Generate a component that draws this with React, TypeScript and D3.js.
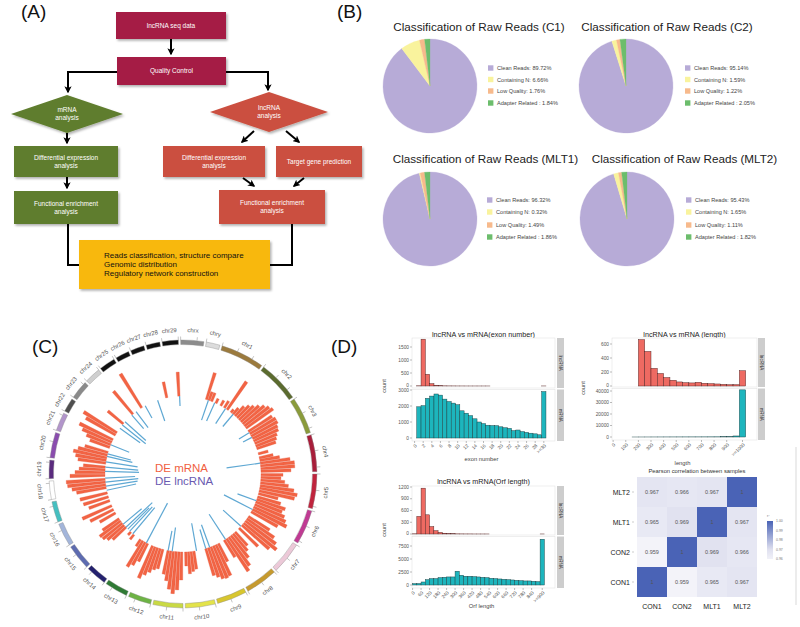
import React from "react";
import * as d3 from "d3";

const FONT = "'Liberation Sans', Arial, Helvetica, sans-serif";

/* ---------------- Panel B data ---------------- */
const readCategories = ["Clean Reads", "Containing N", "Low Quality", "Adapter Related "];
const readColors = ["#b7abd7", "#f9f39d", "#f7ba8c", "#6cbd6c"];
const readsC1 = [89.72, 6.66, 1.76, 1.84];
const readsC2 = [95.14, 1.59, 1.22, 2.05];
const readsMLT1 = [96.32, 0.32, 1.49, 1.86];
const readsMLT2 = [95.43, 1.65, 1.11, 1.82];

/* ---------------- Panel C data ---------------- */
const chromosomes = ["chrx", "chry", "chr1", "chr2", "chr3", "chr4", "chr5", "chr6", "chr7", "chr8", "chr9", "chr10", "chr11", "chr12", "chr13", "chr14", "chr15", "chr16", "chr17", "chr18", "chr19", "chr20", "chr21", "chr22", "chr23", "chr24", "chr25", "chr26", "chr27", "chr28", "chr29"];
const chromSizes = [10, 6, 19, 18, 16, 16, 15, 15, 14, 14, 13, 13, 13, 10, 10, 9, 11, 10, 9, 8, 8, 11, 8, 6, 8, 7, 7, 6, 6, 6, 7];
const chromColors = ["#8c8c8c", "#dcdcdc", "#9b7a3d", "#5b6b2f", "#8a9b3b", "#a81d3a", "#c0233d", "#c03a93", "#ecc9d8", "#c69a2e", "#d8c62e", "#e3e34a", "#c9d944", "#6db344", "#2f7a34", "#24216e", "#5d6bb0", "#a3b5da", "#45bfc0", "#ffffff", "#5a2b7e", "#8a4cae", "#b295cb", "#4f4f4f", "#8a8a8a", "#cfcfcf", "#111111", "#111111", "#111111", "#111111", "#111111"];

// DE mRNA: [chromosome, position within chromosome, signal]
const deMrna: [string, number, number][] = [
  ["chr1", 0.5, 28], ["chr1", 2.5, 9], ["chr1", 4.5, 9], ["chr1", 8, 5], ["chr1", 12, 6], ["chr1", 15, 8], ["chr1", 17.5, 34],
  ["chr2", 1, 4], ["chr2", 3, 8], ["chr2", 5, 13], ["chr2", 7, 17], ["chr2", 9, 20], ["chr2", 11, 24], ["chr2", 13, 28], ["chr2", 15, 31], ["chr2", 17, 33],
  ["chr3", 1, 28], ["chr3", 3, 30], ["chr3", 5, 30], ["chr3", 7, 28], ["chr3", 9, 27], ["chr3", 11, 24], ["chr3", 13, 22], ["chr3", 15, 20],
  ["chr4", 2, 10], ["chr4", 5, 14], ["chr4", 7, 20], ["chr4", 9, 30], ["chr4", 11, 34], ["chr4", 13, 34], ["chr4", 15, 30],
  ["chr5", 0.5, 22], ["chr5", 2.5, 20], ["chr5", 4.5, 24], ["chr5", 6.5, 28], ["chr5", 8.5, 34], ["chr5", 10.5, 38], ["chr5", 12.5, 36], ["chr5", 14.5, 20],
  ["chr6", 1, 24], ["chr6", 3, 30], ["chr6", 5, 28], ["chr6", 7, 32], ["chr6", 9, 35], ["chr6", 11, 38], ["chr6", 13, 30],
  ["chr7", 1, 25], ["chr7", 3, 33], ["chr7", 5, 38], ["chr7", 7, 42], ["chr7", 9, 36], ["chr7", 12, 26],
  ["chr8", 1, 18], ["chr8", 3, 22], ["chr8", 5, 28], ["chr8", 7, 35], ["chr8", 9, 39], ["chr8", 11, 20],
  ["chr9", 1, 20], ["chr9", 3, 34], ["chr9", 5, 35], ["chr9", 7, 34], ["chr9", 9, 31], ["chr9", 11, 28],
  ["chr10", 6, 18], ["chr10", 8, 20], ["chr10", 10, 22], ["chr10", 12, 14],
  ["chr11", 1, 28], ["chr11", 3, 38], ["chr11", 5, 42], ["chr11", 7, 38], ["chr11", 9, 30], ["chr11", 11, 24],
  ["chr12", 1, 20], ["chr12", 3, 22], ["chr12", 5, 26], ["chr12", 7, 30], ["chr12", 9, 35],
  ["chr13", 2, 20], ["chr13", 4, 26], ["chr13", 6, 30], ["chr13", 8, 8],
  ["chr14", 3, 6], ["chr14", 6, 4],
  ["chr15", 1, 18], ["chr15", 3, 22], ["chr15", 5, 25], ["chr15", 7, 26], ["chr15", 9, 20],
  ["chr16", 2, 18], ["chr16", 5, 26], ["chr16", 8, 32],
  ["chr17", 1, 22], ["chr17", 4, 26], ["chr17", 7, 28],
  ["chr18", 1, 30], ["chr18", 3, 34], ["chr18", 5, 38], ["chr18", 7, 39],
  ["chr19", 1, 35], ["chr19", 3, 30], ["chr19", 5, 26], ["chr19", 7, 22],
  ["chr20", 1, 28], ["chr20", 3, 31], ["chr20", 5, 34], ["chr20", 7, 30], ["chr20", 9, 24],
  ["chr21", 1, 21], ["chr21", 3, 26], ["chr21", 5, 32], ["chr21", 7, 37],
  ["chr22", 2, 34], ["chr22", 4, 39],
  ["chr23", 5, 20], ["chr24", 6, 30], ["chr25", 6, 40],
  ["chr28", 4, 16], ["chr29", 6, 24],
];

// DE lncRNA: [chromosome, position within chromosome, signal]
const deLnc: [string, number, number][] = [
  ["chr27", 4, 22], ["chr29", 6.5, 10],
  ["chr1", 2, 21], ["chr1", 7, 20], ["chr1", 16, 18], ["chr2", 3, 16],
  ["chr3", 2, 12], ["chr3", 6, 10], ["chr4", 9, 34],
  ["chr6", 4, 20], ["chr6", 11, 32], ["chr7", 10, 24], ["chr8", 10, 30],
  ["chr9", 8, 24], ["chr9", 11, 20], ["chr10", 4, 28],
  ["chr11", 8, 24], ["chr11", 11, 20], ["chr13", 3, 45],
  ["chr14", 4, 34], ["chr14", 7, 33], ["chr14", 9, 30], ["chr15", 1, 36], ["chr15", 4, 24],
  ["chr17", 9, 30], ["chr18", 2, 32], ["chr18", 5, 33], ["chr18", 8, 30],
  ["chr19", 4, 34], ["chr19", 7, 33], ["chr20", 2, 32], ["chr20", 6, 26], ["chr20", 8, 24],
  ["chr21", 3, 20], ["chr23", 1, 25], ["chr23", 4, 30], ["chr23", 7, 28],
  ["chr24", 5, 18], ["chr25", 1, 20], ["chr26", 1, 14],
];

/* ---------------- Panel D data ---------------- */
const exonBins = d3.range(1, 31);
const exonLnc = [8, 1800, 450, 90, 30, 12, 6, 4, 3, 2, 2, 1, 1, 1, 1, 1, 1, 0, 0, 0, 0, 0, 0, 0, 0, 0, 0, 0, 0, 2];
const exonMrna = [1950, 2020, 2480, 2620, 2750, 2680, 2430, 2280, 2180, 2080, 1700, 1550, 1400, 1200, 1000, 900, 800, 780, 770, 700, 640, 600, 460, 500, 400, 350, 300, 260, 200, 2900];
const exonTicks = d3.range(0, 31, 2);
const exonTickLabels = ["0", "2", "4", "6", "8", "10", "12", "14", "16", "18", "20", "22", "24", "26", "28", ">=30"];

const lengthBins = d3.range(0, 1001, 50);
const lengthLnc = [0, 0, 0, 0, 663, 494, 252, 179, 121, 82, 58, 48, 44, 53, 39, 34, 29, 24, 19, 19, 218];
const lengthMrna = [0, 0, 0, 10, 20, 30, 40, 50, 60, 70, 80, 90, 100, 110, 120, 140, 160, 200, 300, 900, 41000];
const lengthTicks = [0, 100, 200, 300, 400, 500, 600, 700, 800, 900, 1025];
const lengthTickLabels = ["0", "100", "200", "300", "400", "500", "600", "700", "800", "900", ">=1000"];

const orfBins = d3.range(0, 901, 30);
const orfLnc = [5, 450, 1170, 490, 190, 85, 40, 20, 10, 6, 4, 3, 2, 2, 1, 1, 1, 1, 0, 0, 0, 0, 0, 0, 0, 0, 0, 0, 0, 0, 1];
const orfMrna = [260, 280, 580, 1030, 1230, 1230, 1420, 1490, 1550, 1550, 2650, 1870, 1680, 1680, 1610, 1550, 1480, 1420, 1290, 1230, 1160, 1100, 1030, 970, 900, 840, 780, 780, 710, 650, 8800];
const orfTicks = [0, 60, 120, 180, 240, 300, 360, 420, 480, 540, 600, 660, 720, 780, 840, 915];
const orfTickLabels = ["0", "60", "120", "180", "240", "300", "360", "420", "480", "540", "600", "660", "720", "780", "840", ">=900"];

const corrSamples = ["CON1", "CON2", "MLT1", "MLT2"];
const corrCON1 = [1, 0.959, 0.965, 0.967];
const corrCON2 = [0.959, 1, 0.969, 0.966];
const corrMLT1 = [0.965, 0.969, 1, 0.967];
const corrMLT2 = [0.967, 0.966, 0.967, 1];
const corrLegendTicks = [1.0, 0.99, 0.98, 0.97, 0.96];

/* ================= Panel A ================= */
function Box({ x, y, w, h, fill, lines, fs = 6.5, color = "#fff" }: any) {
  const lh = fs * 1.25;
  return (
    <g>
      <rect x={x} y={y} width={w} height={h} fill={fill} filter="url(#shadow)" />
      {lines.map((t: string, i: number) => (
        <text key={i} x={x + w / 2} y={y + h / 2 + (i - (lines.length - 1) / 2) * lh + fs * 0.35} textAnchor="middle" fontSize={fs} fill={color}>{t}</text>
      ))}
    </g>
  );
}

function Diamond({ cx, cy, hw, hh, fill, lines, fs = 6.5 }: any) {
  const lh = fs * 1.25;
  return (
    <g>
      <polygon points={`${cx},${cy - hh} ${cx + hw},${cy} ${cx},${cy + hh} ${cx - hw},${cy}`} fill={fill} filter="url(#shadow)" />
      {lines.map((t: string, i: number) => (
        <text key={i} x={cx} y={cy + (i - (lines.length - 1) / 2) * lh + fs * 0.35} textAnchor="middle" fontSize={fs} fill="#fff">{t}</text>
      ))}
    </g>
  );
}

function PanelA() {
  const crimson = "#a51c44";
  const green = "#5f7d2d";
  const red = "#cb503f";
  const ln = { stroke: "#000", strokeWidth: 2, fill: "none" };
  return (
    <g>
      <text x={21} y={18} fontSize={19} fill="#111">(A)</text>
      <Box x={116} y={12} w={110} h={27} fill={crimson} lines={["lncRNA seq data"]} />
      <Box x={117} y={57} w={109} h={28} fill={crimson} lines={["Quality Control"]} />
      <Diamond cx={67} cy={114} hw={56} hh={19} fill={green} lines={["mRNA", "analysis"]} />
      <Diamond cx={269} cy={112} hw={59} hh={20} fill={red} lines={["lncRNA", "analysis"]} />
      <Box x={14} y={146} w={104} h={31} fill={green} lines={["Differential expression", "analysis"]} />
      <Box x={14} y={191} w={104} h={33} fill={green} lines={["Functional enrichment", "analysis"]} />
      <Box x={163} y={146} w={102} h={31} fill={red} lines={["Differential expression", "analysis"]} />
      <Box x={276} y={146} w={86} h={31} fill={red} lines={["Target gene prediction"]} />
      <Box x={219} y={190} w={106} h={34} fill={red} lines={["Functional enrichment", "analysis"]} />
      <rect x={79} y={240} width={191} height={49} fill="#f8b80e" filter="url(#shadow)" />
      {["Reads classification, structure compare", "Genomic distribution", "Regulatory network construction"].map((t, i) => (
        <text key={i} x={104} y={258 + i * 9.2} fontSize={8} fill="#111">{t}</text>
      ))}
      <path d="M171,39 V54" {...ln} markerEnd="url(#arr)" />
      <path d="M117,72 H68 V92" {...ln} markerEnd="url(#arr)" />
      <path d="M226,72 H268 V90" {...ln} markerEnd="url(#arr)" />
      <path d="M67,133 V143" {...ln} markerEnd="url(#arr)" />
      <path d="M67,177 V188" {...ln} markerEnd="url(#arr)" />
      <path d="M254,131 L242,142" {...ln} markerEnd="url(#arr)" />
      <path d="M286,131 L299,142" {...ln} markerEnd="url(#arr)" />
      <path d="M243,178 L254,186" {...ln} markerEnd="url(#arr)" />
      <path d="M304,178 L294,186" {...ln} markerEnd="url(#arr)" />
      <path d="M68,224 V265 H79" {...ln} />
      <path d="M292,224 V265 H270" {...ln} />
    </g>
  );
}

/* ================= Panel B ================= */
function Pie({ cx, cy, values, title, titleX, titleY, legX, legYs }: any) {
  const arcs = d3.pie<number>().sort(null).value((d) => d)(values);
  const arc = d3.arc<any>().innerRadius(0).outerRadius(47);
  return (
    <g>
      <text x={titleX} y={titleY} textAnchor="middle" fontSize={11.7} fill="#222">{title}</text>
      <g transform={`translate(${cx},${cy})`}>
        {arcs.map((a, i) => (
          <path key={i} d={arc(a) as string} fill={readColors[i]} stroke={readColors[i]} strokeWidth={0.3} />
        ))}
      </g>
      {readCategories.map((c, i) => (
        <g key={c}>
          <rect x={legX} y={legYs[i] - 2.7} width={5.4} height={5.4} fill={readColors[i]} />
          <text x={legX + 9} y={legYs[i]} dominantBaseline="central" fontSize={5.6} fill="#444">{`${c}: ${values[i].toFixed(2)}%`}</text>
        </g>
      ))}
    </g>
  );
}

function PanelB() {
  return (
    <g>
      <text x={337} y={18} fontSize={19} fill="#111">(B)</text>
      <Pie cx={430} cy={86} values={readsC1} title="Classification of Raw Reads (C1)" titleX={479} titleY={30.5} legX={488} legYs={[68, 79.5, 91, 103]} />
      <Pie cx={626} cy={86} values={readsC2} title="Classification of Raw Reads (C2)" titleX={667} titleY={30.5} legX={685} legYs={[68, 79.5, 91, 103]} />
      <Pie cx={430} cy={219} values={readsMLT1} title="Classification of Raw Reads (MLT1)" titleX={485.5} titleY={162.5} legX={487} legYs={[200, 212, 225, 237]} />
      <Pie cx={627} cy={219} values={readsMLT2} title="Classification of Raw Reads (MLT2)" titleX={684.5} titleY={162.5} legX={686} legYs={[200, 212, 225, 237]} />
    </g>
  );
}

/* ================= Panel C ================= */
function PanelC() {
  const cx = 183, cy = 474;
  const gap = 1, startDeg = -1;
  const starts: number[] = [];
  let acc = startDeg;
  chromSizes.forEach((s) => { starts.push(acc); acc += s + gap; });
  const ang = d3.scaleLinear().domain([0, 360]).range([0, 2 * Math.PI]);
  const pos = (chr: string, p: number) => starts[chromosomes.indexOf(chr)] + p;
  const arc = d3.arc<any>();
  const radial = d3.lineRadial<[number, number]>();
  const mScale = d3.scaleLinear().domain([0, 45]).range([78, 123]);
  const lScale = d3.scaleLinear().domain([0, 45]).range([78, 33]);
  return (
    <g>
      <text x={32} y={353} fontSize={19} fill="#111">(C)</text>
      <text x={331} y={353} fontSize={19} fill="#111">(D)</text>
      <g transform={`translate(${cx},${cy})`}>
        {chromosomes.map((c, i) => {
          const a0 = starts[i], a1 = starts[i] + chromSizes[i];
          const mid = (a0 + a1) / 2;
          const [lx, ly] = d3.pointRadial(ang(mid), 144);
          const rot = mid > 90 && mid < 270 ? mid - 180 : mid;
          const ticks = d3.range(0, chromSizes[i] + 0.01, 7);
          return (
            <g key={c}>
              <path d={arc({ innerRadius: 129.5, outerRadius: 134, startAngle: ang(a0), endAngle: ang(a1) }) as string} fill={chromColors[i]} stroke="#8a8a8a" strokeWidth={0.4} />
              {ticks.map((t) => (
                <path key={t} d={radial([[ang(a0 + t), 134], [ang(a0 + t), 137.5]]) as string} stroke="#888" strokeWidth={0.5} />
              ))}
              <text transform={`translate(${lx},${ly}) rotate(${rot})`} textAnchor="middle" dominantBaseline="central" fontSize={6} fill="#555">{c}</text>
            </g>
          );
        })}
        {deMrna.map(([c, p, v], i) => {
          const a = pos(c, p);
          return <path key={i} d={arc({ innerRadius: mScale(0), outerRadius: mScale(v), startAngle: ang(a - 0.85), endAngle: ang(a + 0.85) }) as string} fill="#f26444" stroke="#e4553a" strokeWidth={0.3} />;
        })}
        {deLnc.map(([c, p, v], i) => {
          const a = ang(pos(c, p));
          return <path key={i} d={radial([[a, lScale(0)], [a, lScale(v)]]) as string} stroke="#5fa8d3" strokeWidth={1.2} />;
        })}
      </g>
      <text x={155} y={472} fontSize={11.5} fill="#f0603f">DE mRNA</text>
      <text x={155} y={485} fontSize={11.5} fill="#6a5ab0">DE lncRNA</text>
    </g>
  );
}

/* ================= Panel D ================= */
function FacetHist(p: any) {
  const xs = d3.scaleLinear().domain(p.xDomain).range([p.left, p.right]);
  const yT = d3.scaleLinear().domain([0, p.topRef[0]]).range([p.topZero, p.topRef[1]]);
  const yB = d3.scaleLinear().domain([0, p.botRef[0]]).range([p.botZero, p.botRef[1]]);
  const panels = [
    { y0: p.topY0, y1: p.topY1, s: yT, vals: p.lnc, fill: "#ee6a62", stroke: "#4d2020", ticks: p.topTicks, label: "lncRNA" },
    { y0: p.botY0, y1: p.botY1, s: yB, vals: p.mrna, fill: "#1db5bd", stroke: "#1a3f42", ticks: p.botTicks, label: "mRNA" },
  ];
  return (
    <g>
      <text x={(p.left + p.right) / 2} y={p.titleY} textAnchor="middle" fontSize={7.2} fill="#222">{p.title}</text>
      {panels.map((pn, k) => (
        <g key={k}>
          <rect x={p.left} y={pn.y0} width={p.right - p.left} height={pn.y1 - pn.y0} fill="#fff" stroke="#dedede" strokeWidth={0.5} />
          {pn.vals.map((v: number, i: number) => {
            const xa = xs(p.bins[i] + p.barOffset);
            const xb = xs(p.bins[i] + p.barOffset + p.binWidth);
            const y = pn.s(v);
            return <rect key={i} x={xa} y={y} width={xb - xa} height={pn.s(0) - y} fill={pn.fill} stroke={pn.stroke} strokeWidth={0.45} />;
          })}
          <rect x={p.stripX} y={pn.y0} width={7} height={pn.y1 - pn.y0} fill="#cdcdcd" />
          <text transform={`translate(${p.stripX + 3.5},${(pn.y0 + pn.y1) / 2}) rotate(90)`} textAnchor="middle" dominantBaseline="central" fontSize={4.5} fill="#333">{pn.label}</text>
          {pn.ticks.map((t: number) => (
            <g key={t}>
              <line x1={p.left - 2} x2={p.left} y1={pn.s(t)} y2={pn.s(t)} stroke="#777" strokeWidth={0.5} />
              <text x={p.left - 3} y={pn.s(t) + (k === 0 && t === 0 ? -0.8 : 0) + (k === 1 && t === pn.ticks[pn.ticks.length - 1] ? 0.8 : 0)} textAnchor="end" dominantBaseline="central" fontSize={4.8} fill="#555">{t}</text>
            </g>
          ))}
        </g>
      ))}
      {p.xTicks.map((t: number, i: number) => (
        <g key={i}>
          <line x1={xs(t)} x2={xs(t)} y1={p.botY1} y2={p.botY1 + 2} stroke="#777" strokeWidth={0.5} />
          <text transform={`translate(${xs(t) + 1.5},${p.botY1 + 4}) rotate(-45)`} textAnchor="end" dominantBaseline="central" fontSize={4.8} fill="#555">{p.xTickLabels[i]}</text>
        </g>
      ))}
      <text x={(p.left + p.right) / 2 - 2} y={p.xLabelY} textAnchor="middle" fontSize={5.8} fill="#444">{p.xLabel}</text>
      <text transform={`translate(${p.countX},${p.countY}) rotate(-90)`} textAnchor="middle" fontSize={5.5} fill="#444">count</text>
    </g>
  );
}

function Heatmap() {
  const rowsOrder = ["MLT2", "MLT1", "CON2", "CON1"];
  const matrix: Record<string, number[]> = { CON1: corrCON1, CON2: corrCON2, MLT1: corrMLT1, MLT2: corrMLT2 };
  const xb = d3.scaleBand().domain(corrSamples).range([637, 757]);
  const yb = d3.scaleBand().domain(rowsOrder).range([477, 597]);
  const color = d3.scaleLinear<string>().domain([0.955, 0.97, 1]).range(["#fafafd", "#dfe0ef", "#4a63b6"]);
  const lg = d3.scaleLinear().domain([1.0, 0.96]).range([521, 559]);
  return (
    <g>
      <text x={697} y={473} textAnchor="middle" fontSize={5.8} fill="#333">Pearson correlation between samples</text>
      {rowsOrder.map((r) =>
        corrSamples.map((c, j) => {
          const v = matrix[r][j];
          return (
            <g key={r + c}>
              <rect x={xb(c)} y={yb(r)} width={xb.bandwidth()} height={yb.bandwidth()} fill={color(v)} />
              <text x={(xb(c) as number) + 15} y={(yb(r) as number) + 15} textAnchor="middle" dominantBaseline="central" fontSize={5.5} fill="#555">{v === 1 ? "1" : v.toFixed(3)}</text>
            </g>
          );
        })
      )}
      {rowsOrder.map((r) => (
        <g key={r}>
          <text x={630} y={(yb(r) as number) + 15} textAnchor="end" dominantBaseline="central" fontSize={7} fill="#222">{r}</text>
          <line x1={632} x2={634} y1={(yb(r) as number) + 15} y2={(yb(r) as number) + 15} stroke="#999" strokeWidth={0.5} />
        </g>
      ))}
      {corrSamples.map((c) => (
        <text key={c} x={(xb(c) as number) + 15} y={609} textAnchor="middle" fontSize={7} fill="#222">{c}</text>
      ))}
      <defs>
        <linearGradient id="corrGrad" x1="0" y1="0" x2="0" y2="1">
          {corrLegendTicks.map((t, i) => (
            <stop key={t} offset={`${(i / (corrLegendTicks.length - 1)) * 100}%`} stopColor={color(t)} />
          ))}
        </linearGradient>
      </defs>
      <text x={767} y={517} fontSize={3.5} fill="#666">r²</text>
      <rect x={767} y={lg(1.0)} width={6} height={lg(0.96) - lg(1.0)} fill="url(#corrGrad)" />
      {corrLegendTicks.map((t) => (
        <text key={t} x={776} y={lg(t)} dominantBaseline="central" fontSize={3.5} fill="#777">{t.toFixed(2)}</text>
      ))}
      <line x1={796} x2={796} y1={447} y2={605} stroke="#cfcfcf" strokeWidth={0.8} />
    </g>
  );
}

function PanelD() {
  return (
    <g>
      <FacetHist
        title="lncRNA vs mRNA(exon number)" titleY={336.5}
        left={412} right={555} stripX={557}
        topY0={338} topY1={388} botY0={389.5} botY1={441}
        topZero={386} topRef={[1500, 347]} botZero={438} botRef={[3000, 390]}
        topTicks={[0, 500, 1000, 1500]} botTicks={[0, 1000, 2000, 3000]}
        xDomain={[-0.6, 32.6]} bins={exonBins} barOffset={-0.5} binWidth={1}
        lnc={exonLnc} mrna={exonMrna}
        xTicks={exonTicks} xTickLabels={exonTickLabels}
        xLabel="exon number" xLabelY={461} countX={386} countY={386}
      />
      <FacetHist
        title="lncRNA vs mRNA (length)" titleY={336.5}
        left={612} right={757} stripX={758}
        topY0={338} topY1={387} botY0={388.5} botY1={440}
        topZero={386} topRef={[600, 344]} botZero={437} botRef={[40000, 391]}
        topTicks={[0, 200, 400, 600]} botTicks={[0, 10000, 20000, 30000, 40000]}
        xDomain={[-9, 1140]} bins={lengthBins} barOffset={0} binWidth={50}
        lnc={lengthLnc} mrna={lengthMrna}
        xTicks={lengthTicks} xTickLabels={lengthTickLabels}
        xLabel="length" xLabelY={465} countX={585} countY={388}
      />
      <FacetHist
        title="lncRNA vs mRNA(Orf length)" titleY={484}
        left={412} right={555} stripX={557}
        topY0={486} topY1={535} botY0={536.5} botY1={588}
        topZero={534} topRef={[1200, 487]} botZero={585} botRef={[7500, 546]}
        topTicks={[0, 300, 600, 900, 1200]} botTicks={[0, 2500, 5000, 7500]}
        xDomain={[-4, 1005]} bins={orfBins} barOffset={0} binWidth={30}
        lnc={orfLnc} mrna={orfMrna}
        xTicks={orfTicks} xTickLabels={orfTickLabels}
        xLabel="Orf length" xLabelY={608} countX={386} countY={530}
      />
      <Heatmap />
    </g>
  );
}

export default function App() {
  return (
    <svg width={800} height={627} viewBox="0 0 800 627" style={{ position: "absolute", left: 0, top: 0, background: "#fff" }} fontFamily={FONT}>
      <defs>
        <filter id="shadow" x="-10%" y="-10%" width="130%" height="140%">
          <feDropShadow dx="1.5" dy="1.8" stdDeviation="1.2" floodColor="#000" floodOpacity="0.3" />
        </filter>
        <marker id="arr" viewBox="0 0 10 10" refX="8" refY="5" markerWidth="3.6" markerHeight="3.6" orient="auto">
          <path d="M0,0 L10,5 L0,10 L2.5,5 z" fill="#000" />
        </marker>
      </defs>
      <rect width={800} height={627} fill="#fff" />
      <PanelA />
      <PanelB />
      <PanelC />
      <PanelD />
    </svg>
  );
}
